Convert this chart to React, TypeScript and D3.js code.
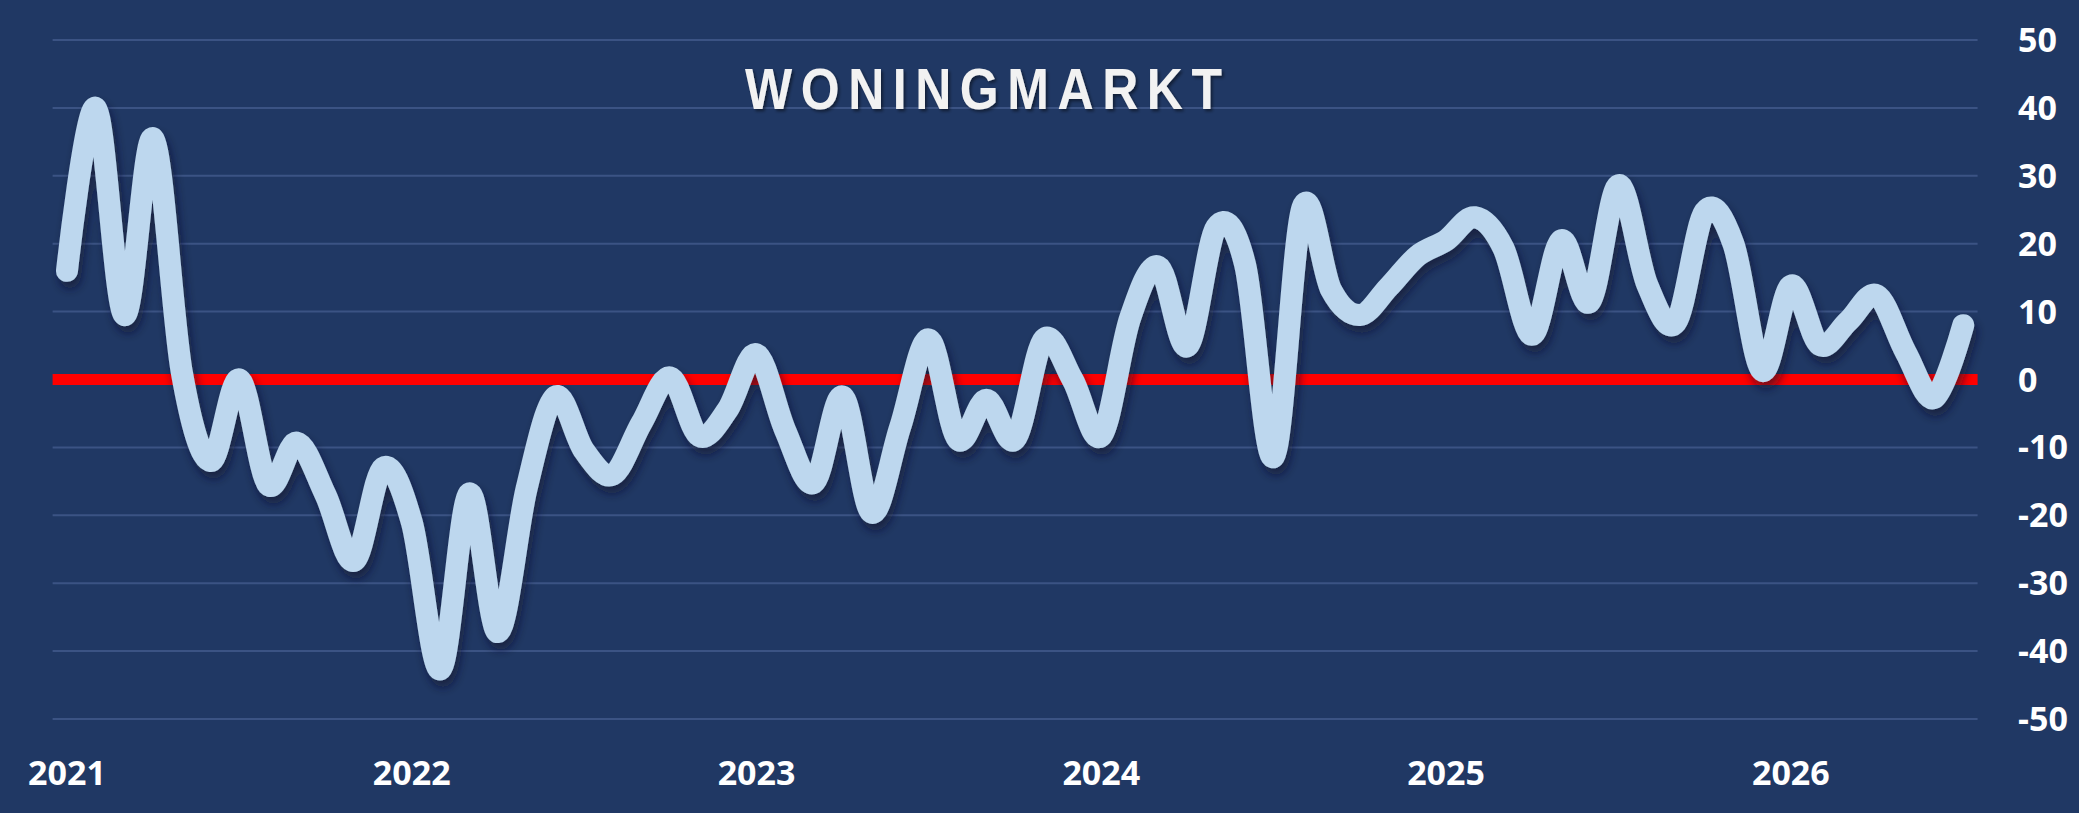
import { useEffect, useRef } from "react";
import * as d3 from "d3";

// monthly index, jan 2021 .. jul 2026
const values = [
    16, 40, 9.5, 35.5, 1, -12, 0, -15.5, -9.3, -17, -26.7, -13,
    -21, -42.7, -16.8, -37.2, -16, -2.5, -10.5, -14, -6.4, 0.3, -8.3, -4.4,
    3.7, -7.5, -15.2, -2.5, -19.6, -7, 5.9, -8.8, -3, -8.8, 5.9, 0,
    -8.3, 9, 16.6, 4.9, 22.4, 17, -11.4, 25.3, 13.2, 9.5, 13.6, 18.2,
    20.5, 23.9, 19.3, 6.6, 20.5, 11.4, 28.6, 14, 8.4, 24.7, 20, 1.3,
    13.8, 5.1, 8.6, 12.4, 4, -2.7, 8,
];
const years = ["2021", "2022", "2023", "2024", "2025", "2026"];
const yTicks = [50, 40, 30, 20, 10, 0, -10, -20, -30, -40, -50];
const title = "WONINGMARKT";

export default function App() {
    const svgRef = useRef<SVGSVGElement | null>(null);

    useEffect(() => {
        if (!svgRef.current) return;
        const svg = d3.select(svgRef.current);
        svg.selectAll("*").remove();

        const width = 2079;
        const height = 813;
        const plot = { left: 52.6, right: 1977.6, top: 40, bottom: 719 };
        const labelFont = "'Open Sans', 'Noto Sans', sans-serif";

        const months = values.map((_, i) => i);
        const x = d3
            .scalePoint<number>()
            .domain(months)
            .range([plot.left, plot.right])
            .padding(0.5);
        const y = d3.scaleLinear().domain([-50, 50]).range([plot.bottom, plot.top]);

        const defs = svg.append("defs");
        defs.append("filter")
            .attr("id", "lineShadow")
            .attr("x", "-5%").attr("y", "-20%")
            .attr("width", "110%").attr("height", "140%")
            .append("feDropShadow")
            .attr("dx", 3).attr("dy", 7)
            .attr("stdDeviation", 5)
            .attr("flood-color", "#07142c")
            .attr("flood-opacity", 0.6);
        defs.append("filter")
            .attr("id", "titleShadow")
            .append("feDropShadow")
            .attr("dx", 2).attr("dy", 2)
            .attr("stdDeviation", 1.5)
            .attr("flood-color", "#000")
            .attr("flood-opacity", 0.45);

        svg.append("rect")
            .attr("width", width).attr("height", height)
            .attr("fill", "#203864");

        // gridlines
        svg.append("g")
            .selectAll("line")
            .data(yTicks.filter((t) => t !== 0))
            .join("line")
            .attr("x1", plot.left).attr("x2", plot.right)
            .attr("y1", (d) => y(d)).attr("y2", (d) => y(d))
            .attr("stroke", "#3b5384")
            .attr("stroke-width", 2);

        // zero line
        svg.append("line")
            .attr("x1", plot.left).attr("x2", plot.right)
            .attr("y1", y(0)).attr("y2", y(0))
            .attr("stroke", "#ff0000")
            .attr("stroke-width", 11);

        const line = d3
            .line<number>()
            .x((_, i) => x(i) as number)
            .y((d) => y(d))
            .curve(d3.curveCardinal.tension(0));

        svg.append("path")
            .datum(values)
            .attr("fill", "none")
            .attr("stroke", "#bdd7ee")
            .attr("stroke-width", 22)
            .attr("stroke-linecap", "round")
            .attr("stroke-linejoin", "round")
            .attr("filter", "url(#lineShadow)")
            .attr("d", line);

        // y axis labels, right side
        svg.append("g")
            .selectAll("text")
            .data(yTicks)
            .join("text")
            .attr("x", 2018)
            .attr("y", (d) => y(d) + 12)
            .attr("font-family", labelFont)
            .attr("font-weight", 700)
            .attr("font-size", 34)
            .attr("fill", "#ffffff")
            .text((d) => String(d));

        // year labels
        svg.append("g")
            .selectAll("text")
            .data(years)
            .join("text")
            .attr("x", (_, i) => x(i * 12) as number)
            .attr("y", 785)
            .attr("text-anchor", "middle")
            .attr("font-family", labelFont)
            .attr("font-weight", 700)
            .attr("font-size", 34)
            .attr("fill", "#ffffff")
            .text((d) => d);

        svg.append("text")
            .attr("transform", "translate(745,109) scale(1,1.15)")
            .attr("font-family", "'Liberation Sans', Arial, sans-serif")
            .attr("font-weight", 700)
            .attr("font-size", 50)
            .attr("textLength", 477)
            .attr("lengthAdjust", "spacing")
            .attr("fill", "#f2f2f2")
            .attr("filter", "url(#titleShadow)")
            .text(title);
    }, []);

    return (
        <svg
            ref={svgRef}
            width={2079}
            height={813}
            style={{ position: "absolute", left: 0, top: 0, display: "block" }}
        ></svg>
    );
}
